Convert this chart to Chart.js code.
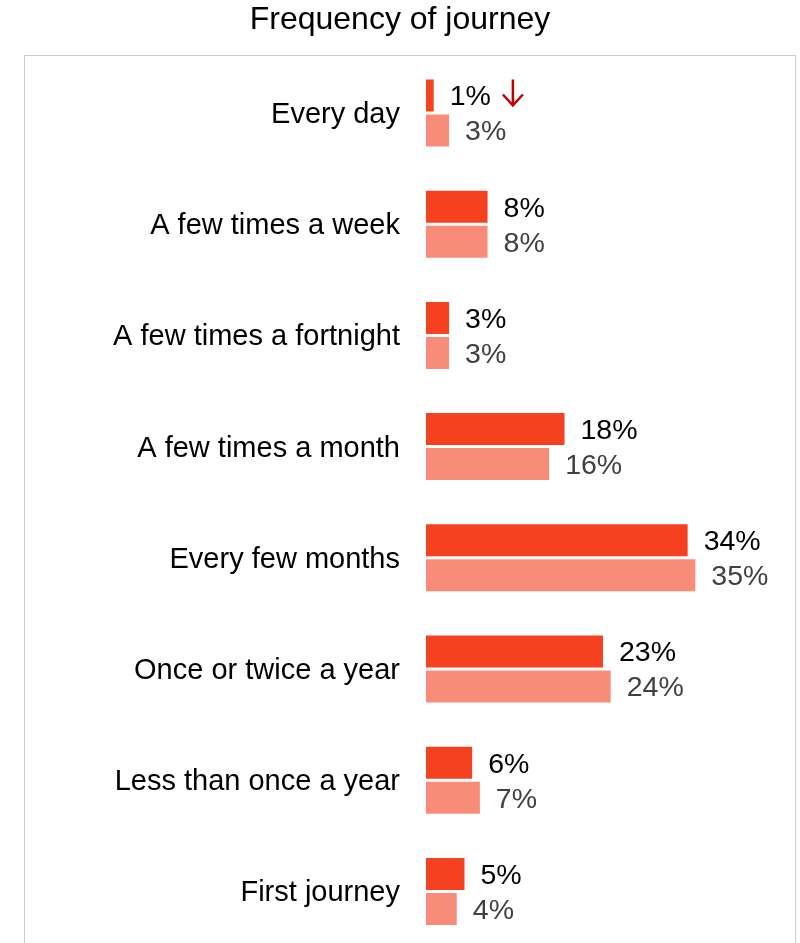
<!DOCTYPE html>
<html>
<head>
<meta charset="utf-8">
<title>Frequency of journey</title>
<script src="https://cdn.jsdelivr.net/npm/chart.js@4"></script>
<style>
  html, body { margin: 0; padding: 0; background: #fff; overflow: hidden; }
  #wrap { width: 800px; height: 947px; }
</style>
</head>
<body>
<div id="wrap"><canvas id="freq" width="800" height="947"></canvas></div>
<script>
/* Frequency of journey - current vs previous wave */
const categories = [
  'Every day',
  'A few times a week',
  'A few times a fortnight',
  'A few times a month',
  'Every few months',
  'Once or twice a year',
  'Less than once a year',
  'First journey'
];
const currentWave  = [1, 8, 3, 18, 34, 23, 6, 5];
const previousWave = [3, 8, 3, 16, 35, 24, 7, 4];
// significant change markers for the current wave
const change = ['down', null, null, null, null, null, null, null];

const COLORS = {
  current:   '#F5411F',
  previous:  '#F98C79',
  textMain:  '#000000',
  textPrev:  '#404040',
  frame:     '#CCCCCC',
  arrow:     '#C00000',
  font:      "Arial, 'Liberation Sans', sans-serif"
};

// light grey frame around the bars
const framePlugin = {
  id: 'frame',
  beforeDraw(chart) {
    const ctx = chart.ctx;
    ctx.save();
    ctx.strokeStyle = COLORS.frame;
    ctx.lineWidth = 1;
    ctx.strokeRect(24.5, 55.5, 771, 1000);
    ctx.restore();
  }
};

// percentage labels at the end of each bar, plus change arrows
const valueLabels = {
  id: 'valueLabels',
  afterDatasetsDraw(chart) {
    const ctx = chart.ctx;
    ctx.save();
    ctx.font = '28.5px ' + COLORS.font;
    ctx.textBaseline = 'middle';
    ctx.textAlign = 'left';
    chart.data.datasets.forEach((ds, di) => {
      const meta = chart.getDatasetMeta(di);
      meta.data.forEach((bar, i) => {
        const txt = ds.data[i] + '%';
        const x = bar.x + 16;
        ctx.fillStyle = di === 0 ? COLORS.textMain : COLORS.textPrev;
        ctx.fillText(txt, x, bar.y + 2);
        if (di === 0 && change[i]) {
          const ax = x + ctx.measureText(txt).width + 22;
          const dir = change[i] === 'down' ? 1 : -1;
          const y0 = bar.y - 16 * dir, y1 = bar.y + 10 * dir;
          ctx.strokeStyle = COLORS.arrow;
          ctx.lineWidth = 2.5;
          ctx.beginPath();
          ctx.moveTo(ax, y0);
          ctx.lineTo(ax, y1);
          ctx.moveTo(ax - 10, y1 - 11 * dir);
          ctx.lineTo(ax, y1);
          ctx.lineTo(ax + 10, y1 - 11 * dir);
          ctx.stroke();
        }
      });
    });
    ctx.restore();
  }
};

new Chart(document.getElementById('freq').getContext('2d'), {
  type: 'bar',
  data: {
    labels: categories,
    datasets: [
      { label: 'Current', data: currentWave, backgroundColor: COLORS.current },
      { label: 'Previous', data: previousWave, backgroundColor: COLORS.previous }
    ]
  },
  options: {
    indexAxis: 'y',
    responsive: false,
    animation: false,
    categoryPercentage: 0.63,
    barPercentage: 0.914,
    layout: { padding: 0 },
    plugins: {
      legend: { display: false },
      tooltip: { enabled: false },
      title: {
        display: true,
        text: 'Frequency of journey',
        color: '#000',
        font: { family: COLORS.font, size: 32, weight: 'normal' },
        padding: { top: 1, bottom: 18 }
      }
    },
    scales: {
      x: {
        display: false,
        min: 0,
        max: 48.6
      },
      y: {
        afterFit(scale) {
          scale.width = 426;
          // no extra room above/below for the tick labels
          scale.paddingTop = 0;
          scale.paddingBottom = 0;
        },
        border: { display: false },
        grid: { display: false, drawTicks: false },
        ticks: {
          color: '#000',
          padding: 26,
          labelOffset: 2,
          font: { family: COLORS.font, size: 29 }
        }
      }
    }
  },
  plugins: [framePlugin, valueLabels]
});
</script>
</body>
</html>
